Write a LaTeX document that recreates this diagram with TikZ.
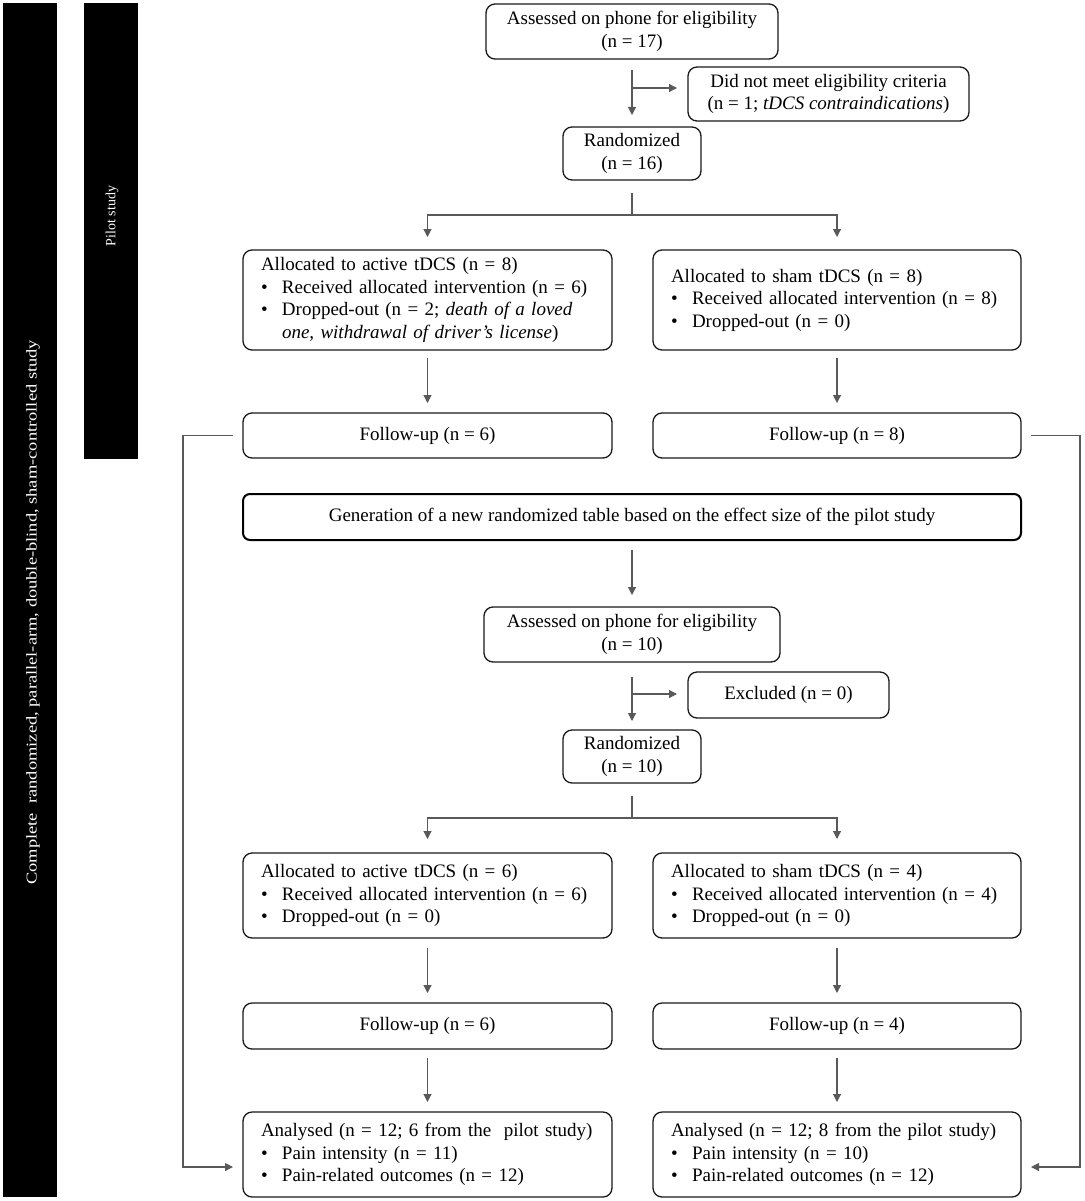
\documentclass[tikz,border=0pt]{standalone}
\usepackage{fontspec}
\setmainfont{Liberation Serif}
\usetikzlibrary{arrows.meta}
\newcommand{\bul}{\makebox[21pt][l]{\textbullet}}
\begin{document}
\begin{tikzpicture}[x=1pt,y=-1pt,
  every node/.style={inner sep=0pt, outer sep=0pt},
  txt/.style={font=\fontsize{19}{22.5}\selectfont},
  cbox/.style={txt, draw=black!90, line width=1.3pt, rounded corners=9pt, align=center},
  lbox/.style={cbox, align=left, inner xsep=18pt},
  gbox/.style={cbox, line width=2pt, draw=black, rounded corners=7pt},
  conn/.style={draw=black!65, line width=1.1pt},
  arr/.style={conn, -{Triangle[length=8pt,width=8pt]}},
  bar/.style={fill=black, draw=none},
  bartext/.style={text=white, rotate=90}
]
\useasboundingbox (0,0) rectangle (1084,1201);
% side bars
\node[bar, minimum width=54pt, minimum height=1194pt] (barall) at (30,600) {};
\node[bartext, xscale=1.23, font=\fontsize{15}{18}\selectfont, anchor=east] (barallt) at (33,340) {Complete\ \ randomized, parallel-arm, double-blind, sham-controlled study};
\node[bar, minimum width=54pt, minimum height=456pt] (barpilot) at (110.5,231) {};
\node[bartext, font=\fontsize{14}{16}\selectfont] (barpilott) at (112,216) {Pilot study};

% pilot part
\node[cbox, minimum width=292pt, minimum height=55pt] (a1) at (632,31.5) {Assessed on phone for eligibility\\(n = 17)};
\node[cbox, minimum width=281pt, minimum height=54pt] (ex1) at (828.5,94) {Did not meet eligibility criteria\\(n = 1; \textit{tDCS contraindications})};
\node[cbox, minimum width=138pt, minimum height=53pt] (r1) at (632,153.5) {Randomized\\(n = 16)};
\node[lbox, text width=333pt, minimum height=100pt] (act1) at (427.5,300) {Allocated to active tDCS (n = 8)\\
\bul Received allocated intervention (n = 6)\\
\bul Dropped-out (n = 2; \textit{death of a loved}\\
\hspace*{21pt}\textit{one, withdrawal of driver’s license})};
\node[lbox, text width=332pt, minimum height=100pt] (sham1) at (837,300) {Allocated to sham tDCS (n = 8)\\
\bul Received allocated intervention (n = 8)\\
\bul Dropped-out (n = 0)};
\node[cbox, minimum width=369pt, minimum height=45pt] (fu1a) at (427.5,435.5) {Follow-up (n = 6)};
\node[cbox, minimum width=368pt, minimum height=45pt] (fu1b) at (837,435.5) {Follow-up (n = 8)};

% generation
\node[gbox, minimum width=778pt, minimum height=46pt] (gen) at (632,517) {Generation of a new randomized table based on the effect size of the pilot study};

% second part
\node[cbox, minimum width=296pt, minimum height=55pt] (a2) at (632,634.5) {Assessed on phone for eligibility\\(n = 10)};
\node[cbox, minimum width=201pt, minimum height=46pt] (ex2) at (788.5,695) {Excluded (n = 0)};
\node[cbox, minimum width=138pt, minimum height=53pt] (r2) at (632,756.5) {Randomized\\(n = 10)};
\node[lbox, text width=333pt, minimum height=85pt] (act2) at (427.5,895.5) {Allocated to active tDCS (n = 6)\\
\bul Received allocated intervention (n = 6)\\
\bul Dropped-out (n = 0)};
\node[lbox, text width=332pt, minimum height=85pt] (sham2) at (837,895.5) {Allocated to sham tDCS (n = 4)\\
\bul Received allocated intervention (n = 4)\\
\bul Dropped-out (n = 0)};
\node[cbox, minimum width=369pt, minimum height=46pt] (fu2a) at (427.5,1026) {Follow-up (n = 6)};
\node[cbox, minimum width=368pt, minimum height=46pt] (fu2b) at (837,1026) {Follow-up (n = 4)};
\node[lbox, text width=333pt, minimum height=85pt] (ana) at (427.5,1154.5) {Analysed (n = 12; 6 from the\ \ pilot study)\\
\bul Pain intensity (n = 11)\\
\bul Pain-related outcomes (n = 12)};
\node[lbox, text width=332pt, minimum height=85pt] (anb) at (837,1154.5) {Analysed (n = 12; 8 from the pilot study)\\
\bul Pain intensity (n = 10)\\
\bul Pain-related outcomes (n = 12)};

% connectors, pilot
\draw[arr, shorten <=11pt, shorten >=12pt] (a1.south) -- (r1.north);
\coordinate (b1) at (632,88);
\draw[arr, shorten >=11pt] (b1) -- (b1 -| ex1.west);
\coordinate (s1) at (632,215);
\draw[conn, shorten <=13pt] (r1.south) -- (s1);
\draw[arr, shorten >=13pt] (s1) -| (act1.north);
\draw[arr, shorten >=13pt] (s1) -| (sham1.north);
\draw[arr, shorten <=8pt, shorten >=10pt] (act1.south) -- (fu1a.north);
\draw[arr, shorten <=8pt, shorten >=10pt] (sham1.south) -- (fu1b.north);

% connectors, second part
\draw[arr, shorten <=10pt, shorten >=12pt] (gen.south) -- (a2.north);
\draw[arr, shorten <=15pt, shorten >=9pt] (a2.south) -- (r2.north);
\coordinate (b2) at (632,694);
\draw[arr, shorten >=11pt] (b2) -- (b2 -| ex2.west);
\coordinate (s2) at (632,818);
\draw[conn, shorten <=13pt] (r2.south) -- (s2);
\draw[arr, shorten >=14pt] (s2) -| (act2.north);
\draw[arr, shorten >=14pt] (s2) -| (sham2.north);
\draw[arr, shorten <=10pt, shorten >=10pt] (act2.south) -- (fu2a.north);
\draw[arr, shorten <=10pt, shorten >=10pt] (sham2.south) -- (fu2b.north);
\draw[arr, shorten <=9pt, shorten >=10pt] (fu2a.south) -- (ana.north);
\draw[arr, shorten <=9pt, shorten >=10pt] (fu2b.south) -- (anb.north);

% side loops
\coordinate (L) at (183,1167);
\coordinate (R) at (1080,1167);
\draw[arr, shorten <=10pt, shorten >=10pt] (fu1a.west) -| (L) -- (L -| ana.west);
\draw[arr, shorten <=10pt, shorten >=10pt] (fu1b.east) -| (R) -- (R -| anb.east);
\end{tikzpicture}
\end{document}
